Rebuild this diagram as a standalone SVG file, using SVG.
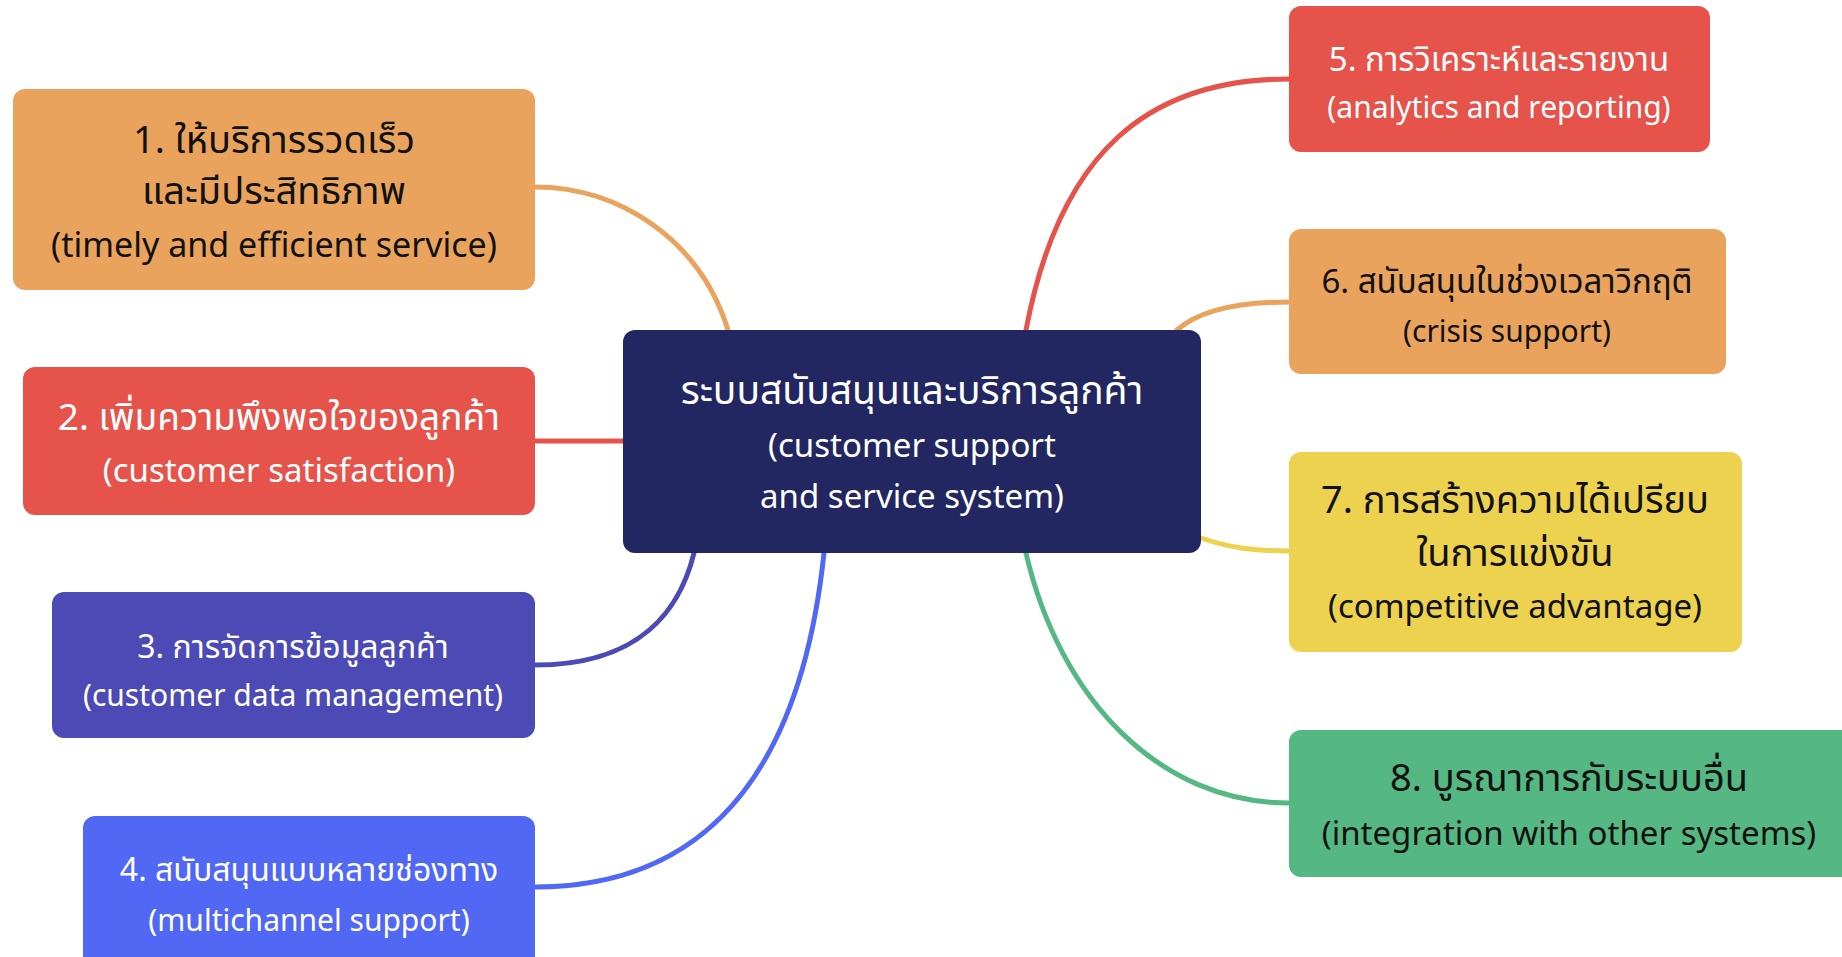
<svg xmlns="http://www.w3.org/2000/svg" width="1842" height="957" viewBox="0 0 1842 957">
<style>
.t{font-family:"Noto Sans","Noto Sans Thai",sans-serif;text-anchor:middle}
.w{fill:#ffffff}
.k{fill:#111111}
.c{fill:none;stroke-width:5;stroke-linecap:round}
.s34{font-size:33px}
.s30{font-size:30px}
.h38{font-size:38px}
.h37{font-size:37px}
.h33{font-size:33px}
.h32{font-size:32px}
.h40{font-size:39px}
</style>
<rect width="1842" height="957" fill="#ffffff"/>
<g id="connectors">
<path class="c" stroke="#E9A35C" d="M535,187 C620,187 700,240 728,330"/>
<path class="c" stroke="#E5534B" d="M535,441 L623,441"/>
<path class="c" stroke="#4C4AB5" d="M694,553 C680,610 640,665 535,665"/>
<path class="c" stroke="#5168F4" d="M824,553 C800,780 700,887 535,887"/>
<path class="c" stroke="#E5534B" d="M1026,330 C1060,150 1150,79 1289,79"/>
<path class="c" stroke="#E9A35C" d="M1177,330 C1200,310 1240,302 1289,302"/>
<path class="c" stroke="#ECD24F" d="M1201,538 C1230,548 1255,551 1289,551"/>
<path class="c" stroke="#55B883" d="M1026,553 C1060,700 1160,803 1289,803"/>
</g>
<g id="center">
<rect x="623" y="330" width="578" height="223" rx="12" fill="#222762"/>
<text class="t w h40" x="912" y="404">ระบบสนับสนุนและบริการลูกค้า</text>
<text class="t w s34" x="912" y="457">(customer support</text>
<text class="t w s34" x="912" y="508">and service system)</text>
</g>
<g id="node1">
<rect x="13" y="89" width="522" height="201" rx="12" fill="#E9A35C"/>
<text class="t k h38" x="274" y="153">1. ให้บริการรวดเร็ว</text>
<text class="t k h38" x="274" y="204">และมีประสิทธิภาพ</text>
<text class="t k" style="font-size:34px" x="274" y="257">(timely and efficient service)</text>
</g>
<g id="node2">
<rect x="23" y="367" width="512" height="148" rx="12" fill="#E5534B"/>
<text class="t w h37" x="279" y="430">2. เพิ่มความพึงพอใจของลูกค้า</text>
<text class="t w s34" x="279" y="482">(customer satisfaction)</text>
</g>
<g id="node3">
<rect x="52" y="592" width="483" height="146" rx="12" fill="#4C4AB5"/>
<text class="t w h32" x="293" y="658">3. การจัดการข้อมูลลูกค้า</text>
<text class="t w s30" x="293" y="706">(customer data management)</text>
</g>
<g id="node4">
<rect x="83" y="816" width="452" height="170" rx="12" fill="#5168F4"/>
<text class="t w h32" x="309" y="881">4. สนับสนุนแบบหลายช่องทาง</text>
<text class="t w s30" x="309" y="931">(multichannel support)</text>
</g>
<g id="node5">
<rect x="1289" y="6" width="421" height="146" rx="12" fill="#E5534B"/>
<text class="t w h33" x="1499" y="71">5. การวิเคราะห์และรายงาน</text>
<text class="t w s30" x="1499" y="118">(analytics and reporting)</text>
</g>
<g id="node6">
<rect x="1289" y="229" width="437" height="145" rx="12" fill="#E9A35C"/>
<text class="t k h33" x="1507" y="293">6. สนับสนุนในช่วงเวลาวิกฤติ</text>
<text class="t k s30" x="1507" y="342">(crisis support)</text>
</g>
<g id="node7">
<rect x="1289" y="452" width="453" height="200" rx="12" fill="#ECD24F"/>
<text class="t k h38" x="1515" y="513">7. การสร้างความได้เปรียบ</text>
<text class="t k h38" x="1515" y="566">ในการแข่งขัน</text>
<text class="t k s34" x="1515" y="618">(competitive advantage)</text>
</g>
<g id="node8">
<rect x="1289" y="730" width="580" height="147" rx="12" fill="#55B883"/>
<text class="t k h38" x="1569" y="791">8. บูรณาการกับระบบอื่น</text>
<text class="t k s34" x="1569" y="845">(integration with other systems)</text>
</g>
</svg>
